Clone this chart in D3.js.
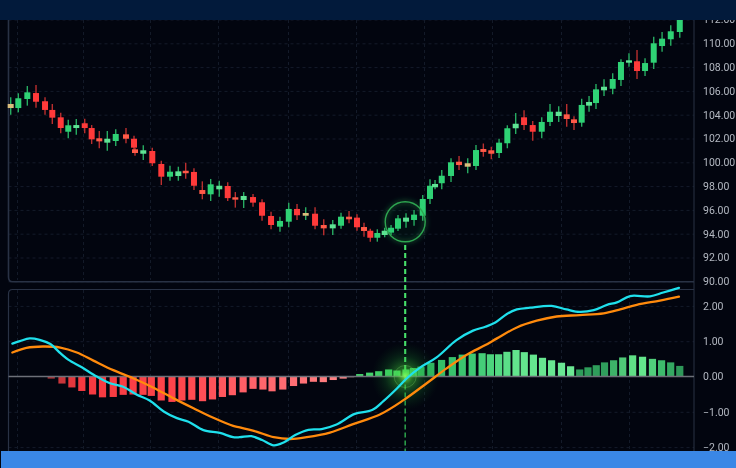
<!DOCTYPE html>
<html>
<head>
<meta charset="utf-8">
<script src="https://cdn.jsdelivr.net/npm/d3@7"></script>
<style>
  html, body { margin: 0; padding: 0; background: #02050f; overflow: hidden; }
  svg { display: block; filter: blur(0.45px); }
  text { font-family: Roboto, sans-serif; }
</style>
</head>
<body>
<div id="chart"></div>
<script>
// candles
var sessions = [0,0.92,2.01,3.06,4.15,5.03,6.05,6.96,7.93,8.95,9.79,10.71,11.68,12.7,13.94,14.91,15.03,16.03,17.12,18.21,19.26,20.27,21.16,22.16,23.17,24.18,25.22,26.24,27.16,28.17,29.3,30.39,31.48,32.56,33.62,34.62,35.67,36.8,37.85,38.94,39.94,40.91,41.87,42.72,43.48,44.33,45.22,45.99,46.83,47.8,48.77,49.82,50.7,51.31,52.12,53.24,54.21,55.26,56.26,57.15,58.11,59.05,60.05,61.06,62.07,63.12,64.21,65.21,66.26,67.23,68.11,69.04,69.93,70.77,71.74,72.79,73.79,74.76,75.73,76.7,77.75,78.76,79.81,80.9];
var opens = [104.56,104.56,105.32,105.82,105.13,104.4,103.78,102.57,102.88,103.28,102.88,102.02,101.65,101.79,102.35,101.98,101.09,100.72,100.95,99.86,98.79,98.85,99.29,99.19,97.67,97.31,97.73,98.01,97.06,96.83,97.08,96.64,95.49,94.59,95.01,96.08,95.51,95.68,94.73,94.45,94.67,95.43,95.35,94.56,94.25,93.66,93.89,94.09,94.42,95.01,95.15,95.51,96.92,97.9,98.24,98.85,100.05,99.63,99.69,101.12,101.01,100.78,101.6,102.86,103.78,103.13,102.57,103.39,103.89,104.03,103.61,103.33,104.76,104.98,106.05,106.18,106.92,108.37,108.49,107.67,108.37,109.77,110.34,110.95];
var closes = [104.9,105.38,105.88,105.09,104.4,103.75,102.88,103.11,103.13,102.88,101.93,101.76,101.98,102.38,101.98,101.23,100.78,101.01,99.92,98.79,99.21,99.24,99.08,98.03,97.34,98.15,98.03,96.99,96.86,97.17,96.61,95.51,94.73,95.07,96.08,95.55,95.74,94.67,94.45,94.79,95.43,95.21,94.54,94.23,93.66,94.06,94.25,94.5,95.29,95.35,95.6,96.92,98.03,98.18,98.87,100,99.77,99.92,101.03,100.87,100.72,101.65,102.86,103.24,103.13,102.57,103.39,104.25,104.25,103.64,103.3,104.82,105.07,106.13,106.35,107,108.43,108.57,107.67,108.34,110,110.39,111.01,112.38];
var highs = [105.46,105.8,106.41,106.5,105.46,104.9,104.17,103.58,103.64,103.66,103.13,102.63,102.63,102.77,102.88,102.24,101.23,101.43,101.23,100.13,99.71,99.63,99.97,99.5,98.4,98.6,98.45,98.32,97.5,97.5,97.34,96.89,95.85,95.43,96.61,96.5,96.22,96.22,95.21,95.15,95.77,95.91,95.63,94.92,94.42,94.37,94.5,94.73,95.57,95.71,95.99,97.25,98.57,98.51,99.35,100.34,100.53,100.34,101.45,101.58,101.31,101.98,103.11,104.14,104.37,103.47,103.78,104.9,104.71,104.9,103.87,105.34,105.57,106.58,106.97,107.48,108.66,109.16,109.44,108.74,110.55,110.95,111.51,112.55];
var lows = [104,104.2,104.76,104.59,104,103.22,102.44,102.02,102.32,102.44,101.54,101.18,100.98,101.37,101.6,100.87,100.55,100.19,99.69,98.09,98.45,98.45,98.62,97.67,96.89,96.75,97.11,96.75,96.19,96.16,96.27,95.09,94.37,94.17,94.54,95.15,95.15,94.37,93.87,93.89,94.42,94.87,94.25,93.75,93.33,93.33,93.7,93.89,94.23,94.5,94.67,95.09,96.5,97.73,97.73,98.34,99.35,99.08,99.35,100.47,100.25,100.36,101.18,102.38,102.71,101.82,102.02,103.05,103.39,102.99,102.71,102.99,104.25,104.48,105.57,105.71,106.41,108.03,107,107.25,107.84,109.29,109.8,110.47];
var neutralSessions = [0,35.67,55.26];

// MACD panel
var histSessions = [4.9,6.2,7.4,8.6,9.9,11.1,12.4,13.6,14.8,16,17,18.2,19.5,20.7,21.9,23.2,24.4,25.6,26.8,28.1,29.3,30.5,31.6,32.9,34.2,35.4,36.6,37.8,39,40.2,41.1,42.2,43.4,44.5,45.7,46.7,47.8,48.7,49.6,50.8,52.1,53.4,54.6,55.8,57,58,59,60,61.1,62.1,63.2,64.3,65.4,66.6,67.7,68.8,69.8,70.8,71.8,72.9,74,75.2,76.4,77.6,78.7,79.8,80.9];
var histValues = [-0.06,-0.2,-0.31,-0.41,-0.51,-0.59,-0.58,-0.52,-0.51,-0.52,-0.55,-0.68,-0.72,-0.68,-0.66,-0.7,-0.65,-0.58,-0.53,-0.45,-0.35,-0.37,-0.42,-0.37,-0.27,-0.2,-0.15,-0.16,-0.1,-0.06,-0.02,0.07,0.11,0.15,0.2,0.17,0.2,0.24,0.28,0.39,0.47,0.55,0.62,0.65,0.66,0.63,0.63,0.7,0.75,0.69,0.62,0.53,0.46,0.39,0.29,0.2,0.26,0.32,0.4,0.46,0.54,0.6,0.56,0.5,0.46,0.4,0.3];
var macdSessions = [0.2,1.1,2.3,3.5,4.8,6,7,8.6,10.4,12,13.6,15.2,16.8,18.5,20.1,21.5,23.3,25.3,26.9,27.7,29.1,30.4,31.8,33,34.4,36,37.6,39.4,41.6,43.7,45.1,46.7,47.9,49.5,51.5,53.9,55.9,57.4,58.6,60,61.2,62.8,65.4,67.2,68.8,70.5,72.1,73.3,74.9,77.3,78.9,80.8];
var macdValues = [0.93,1,1.08,1.04,0.92,0.66,0.47,0.26,0,-0.19,-0.29,-0.51,-0.68,-0.99,-1.18,-1.28,-1.52,-1.6,-1.72,-1.72,-1.69,-1.8,-1.95,-1.87,-1.66,-1.51,-1.49,-1.36,-1.06,-0.95,-0.69,-0.34,-0.05,0.25,0.54,1.03,1.3,1.41,1.53,1.77,1.9,1.95,2,1.9,1.83,1.88,2.03,2.1,2.28,2.27,2.38,2.51];
var signalSessions = [0.2,1.9,3.9,6,8,10,12.4,14.8,17.2,19.7,22.1,24.5,26.9,27.7,29.7,31.8,33.8,35.8,38.6,41.4,44.7,47.5,50.3,52.7,55.1,57.4,58.8,61.2,63.6,66,68.8,71.7,73.7,75.7,78.5,80.8];
var signalValues = [0.68,0.81,0.85,0.82,0.68,0.45,0.18,-0.05,-0.31,-0.62,-0.9,-1.17,-1.4,-1.44,-1.56,-1.72,-1.77,-1.72,-1.59,-1.35,-1.07,-0.67,-0.19,0.23,0.61,0.89,1.08,1.39,1.58,1.7,1.74,1.79,1.9,2.03,2.15,2.26];

var priceTicks = [90,92,94,96,98,100,102,104,106,108,110,112];
var macdTicks = [-2,-1,0,1,2];
var gridSessions = [0.76,8.74,16.84,25.07,33.53,41.75,49.97,58.2,66.54,74.76];
var crossSession = 47.7, crossPrice = 95;

var width = 736, height = 468;
var panelL = 8.5, panelR = 694;

var x = d3.scaleLinear().domain([0, 81]).range([10.7, 680.6]);
var yPrice = d3.scaleLinear().domain([90, 110]).range([281.3, 43.3]);
var yMacd = d3.scaleLinear().domain([-2, 2]).range([447.1, 305.9]);

var svg = d3.select("#chart").append("svg").attr("width", width).attr("height", height);
var defs = svg.append("defs");
defs.append("filter").attr("id", "soft").attr("x", "-50%").attr("y", "-50%").attr("width", "200%").attr("height", "200%")
  .append("feGaussianBlur").attr("stdDeviation", 2.5);

var glow = defs.append("radialGradient").attr("id", "spot");
glow.append("stop").attr("offset", "0%").attr("stop-color", "#8dff5a").attr("stop-opacity", 0.85);
glow.append("stop").attr("offset", "22%").attr("stop-color", "#46d23c").attr("stop-opacity", 0.5);
glow.append("stop").attr("offset", "60%").attr("stop-color", "#1d9a33").attr("stop-opacity", 0.2);
glow.append("stop").attr("offset", "100%").attr("stop-color", "#0b5a20").attr("stop-opacity", 0);

svg.append("rect").attr("width", width).attr("height", height).attr("fill", "#02050f");

// grid
var gridColor = "#141b2a";
function hGrid(scale, ticks) {
  svg.append("g").attr("transform", "translate(" + panelL + ",0)")
    .call(d3.axisRight(scale).tickValues(ticks).tickSize(panelR - panelL).tickFormat(""))
    .call(function (g) { g.select(".domain").remove(); })
    .selectAll("line").attr("stroke", gridColor).attr("stroke-dasharray", "3,3");
}
hGrid(yPrice, priceTicks);
hGrid(yMacd, macdTicks.filter(function (d) { return d !== 0; }));

svg.append("g").attr("transform", "translate(0,20)")
  .call(d3.axisBottom(x).tickValues(gridSessions).tickSize(260).tickFormat(""))
  .call(function (g) { g.select(".domain").remove(); })
  .selectAll("line").attr("stroke", gridColor).attr("stroke-dasharray", "3,3");
svg.append("g").attr("transform", "translate(0,290)")
  .call(d3.axisBottom(x).tickValues(gridSessions).tickSize(162).tickFormat(""))
  .call(function (g) { g.select(".domain").remove(); })
  .selectAll("line").attr("stroke", gridColor).attr("stroke-dasharray", "3,3");

// panel frames
var frame = svg.append("g").attr("fill", "none").attr("stroke", "#293245");
frame.append("path").attr("stroke-width", 1.6)
  .attr("d", "M" + panelL + ",20 V277 Q" + panelL + ",281.7 " + (panelL + 4) + ",281.7 H" + panelR);
frame.append("path").attr("stroke-width", 1.2)
  .attr("d", "M" + panelL + ",452 V294 Q" + panelL + ",289.5 " + (panelL + 4) + ",289.5 H" + panelR);
frame.append("line").attr("x1", panelR).attr("x2", panelR).attr("y1", 20).attr("y2", 452).attr("stroke-width", 1);

// histogram
var histColor = d3.scaleLinear()
  .domain([4.9, 8, 20, 28, 36, 41.1, 42.2, 47, 50, 56, 61, 68, 68.8, 72, 75, 76.4, 79, 81])
  .range(["#a83236", "#f4383f", "#ff454b", "#ff5f66", "#ff7478", "#ff8a8a", "#44cf6a", "#44df6e", "#2fb962", "#3ec873", "#62e58d", "#6ce894", "#2e9d5a", "#2f9f5c", "#5fde85", "#64e68c", "#38b568", "#2d9758"]);

svg.append("g").selectAll("rect")
  .data(histValues)
  .enter()
  .append("rect")
  .attr("x", function (d, i) { return x(histSessions[i]) - 3.6; })
  .attr("width", 7.2)
  .attr("y", function (d) { return d > 0 ? yMacd(d) : yMacd(0); })
  .attr("height", function (d) { return Math.abs(yMacd(d) - yMacd(0)); })
  .attr("fill", function (d, i) { return histColor(histSessions[i]); });

// zero line
svg.append("line").attr("x1", panelL).attr("x2", panelR).attr("y1", yMacd(0)).attr("y2", yMacd(0))
  .attr("stroke", "#6d7078").attr("stroke-width", 1.4);

// signal marker in the lower panel
svg.append("line").attr("x1", x(crossSession)).attr("x2", x(crossSession)).attr("y1", 245).attr("y2", yMacd(0))
  .attr("stroke", "#47e06a").attr("stroke-width", 2.1).attr("stroke-dasharray", "5,3");
svg.append("line").attr("x1", x(crossSession)).attr("x2", x(crossSession)).attr("y1", yMacd(0)).attr("y2", 452)
  .attr("stroke", "#2a9a48").attr("stroke-width", 1.6).attr("stroke-dasharray", "5,3");
svg.append("circle").attr("cx", x(crossSession)).attr("cy", yMacd(0)).attr("r", 34).attr("fill", "url(#spot)");
svg.append("circle").attr("cx", x(crossSession)).attr("cy", yMacd(0)).attr("r", 11)
  .attr("fill", "none").attr("stroke", "#7fd86a").attr("stroke-opacity", 0.3).attr("stroke-width", 1);

// macd + signal lines
function drawLine(xs, ys, color) {
  var line = d3.line()
    .x(function (d, i) { return x(xs[i]); })
    .y(function (d) { return yMacd(d); })
    .curve(d3.curveCatmullRom);
  svg.append("path").datum(ys).attr("d", line)
    .attr("fill", "none").attr("stroke", color).attr("stroke-width", 2.3).attr("stroke-linecap", "round");
}
drawLine(signalSessions, signalValues, "#ff8a0c");
drawLine(macdSessions, macdValues, "#1fe0ec");

// candles
var candle = svg.append("g").selectAll("g")
  .data(sessions)
  .enter()
  .append("g");

function bodyColor(s, i) {
  var up = closes[i] >= opens[i];
  var thin = Math.abs(closes[i] - opens[i]) < 0.4;
  if (neutralSessions.indexOf(s) >= 0) return "#d9bd7c";
  if (up) return thin ? "#5fe394" : "#2fd275";
  return thin ? "#ff5a48" : "#ff3a3a";
}

candle.append("line")
  .attr("x1", function (d) { return x(d); })
  .attr("x2", function (d) { return x(d); })
  .attr("y1", function (d, i) { return yPrice(highs[i]); })
  .attr("y2", function (d, i) { return yPrice(lows[i]); })
  .attr("stroke", function (d, i) { return closes[i] >= opens[i] ? "#27ad62" : "#bb2f2f"; })
  .attr("stroke-width", 1.4);

candle.append("rect")
  .attr("x", function (d) { return x(d) - 3; })
  .attr("width", 6)
  .attr("y", function (d, i) { return yPrice(Math.max(opens[i], closes[i])); })
  .attr("height", function (d, i) { return Math.abs(yPrice(opens[i]) - yPrice(closes[i])); })
  .attr("fill", bodyColor);

// highlight ring
svg.append("circle").attr("cx", x(crossSession)).attr("cy", yPrice(crossPrice)).attr("r", 20)
  .attr("fill", "#1c9c45").attr("fill-opacity", 0.06)
  .attr("stroke", "#2fd163").attr("stroke-opacity", 0.25).attr("stroke-width", 4).attr("filter", "url(#soft)");
svg.append("circle").attr("cx", x(crossSession)).attr("cy", yPrice(crossPrice)).attr("r", 20)
  .attr("fill", "none").attr("stroke", "#2ea550").attr("stroke-width", 1.4);

// value labels
function valueAxis(scale, ticks) {
  svg.append("g").attr("transform", "translate(" + panelR + ",0)")
    .call(d3.axisRight(scale).tickValues(ticks).tickSize(0).tickPadding(9).tickFormat(d3.format(".2f")))
    .call(function (g) { g.select(".domain").remove(); })
    .selectAll("text")
    .attr("fill", "#b4b9c2").attr("font-size", 10.5).style("font-family", "Roboto, sans-serif");
}
valueAxis(yPrice, priceTicks);
valueAxis(yMacd, macdTicks);

// page bands
svg.append("rect").attr("width", width).attr("height", 20).attr("fill", "#021a3b");
svg.append("rect").attr("x", 1).attr("y", 451).attr("width", width).attr("height", 17).attr("fill", "#3a87e6");
</script>
</body>
</html>
